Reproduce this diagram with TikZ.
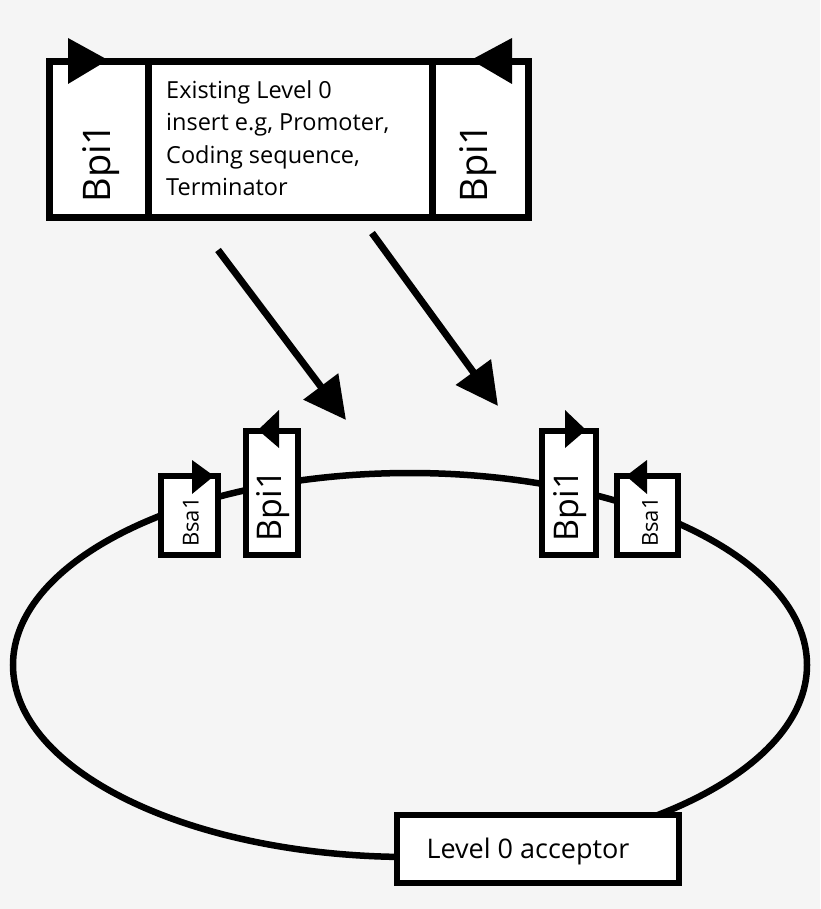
\documentclass[tikz,border=0pt]{standalone}
\usepackage{fontspec}
\setmainfont{Open Sans}
\usetikzlibrary{arrows.meta}
\begin{document}
\begin{tikzpicture}[x=1pt,y=-1pt,
  box/.style={draw=black,line width=7pt,fill=white},
  tri/.style={fill=black},
  lbl/.style={font=\fontsize{#1}{#1}\selectfont,rotate=90,inner sep=0}]
\fill[white!96!black] (0,0) rectangle (820,909);
\useasboundingbox (0,0) rectangle (820,909);
% ring
\draw[line width=6.5pt] (410,665) ellipse [x radius=397,y radius=192];
% top part
\draw[box] (49,62) rectangle (528,218);
\draw[line width=7pt] (148,62) -- (148,218) (432,62) -- (432,218);
\fill[tri] (68,38) -- (68,84) -- (108,60) -- cycle;
\fill[tri] (512,38) -- (512,84) -- (471,60) -- cycle;
\node[lbl=38] (bl) at (101,163) {Bpi1};
\node[lbl=38] (br) at (478,163) {Bpi1};
\node[anchor=north west,align=left,font=\fontsize{23.5}{32.5}\selectfont,inner sep=0] (ins) at (166,80)
 {Existing Level 0\\insert e.g, Promoter,\\Coding sequence,\\Terminator};
% arrows
\coordinate (a1s) at (218,250); \coordinate (a1e) at (346,420);
\coordinate (a2s) at (372,233); \coordinate (a2e) at (498,406);
\draw[line width=7pt,-{Triangle[length=42pt,width=42pt]}] (a1s) -- (a1e);
\draw[line width=7pt,-{Triangle[length=42pt,width=42pt]}] (a2s) -- (a2e);
% small boxes
\draw[box,line width=6pt] (161,476) rectangle (218,555);
\draw[box,line width=6pt] (246,431) rectangle (298,555);
\draw[box,line width=6pt] (542,431) rectangle (596,555);
\draw[box,line width=6pt] (617,476) rectangle (678,555);
\fill[tri] (192,460) -- (192,494) -- (214,476) -- cycle;
\fill[tri] (279,410) -- (279,448) -- (258,430) -- cycle;
\fill[tri] (565,410) -- (565,448) -- (586,430) -- cycle;
\fill[tri] (647,460) -- (647,494) -- (626,476) -- cycle;
\node[lbl=22] (s1) at (191,522) {Bsa1};
\node[lbl=34] (p1) at (273,506) {Bpi1};
\node[lbl=34] (p2) at (570,506) {Bpi1};
\node[lbl=22] (s2) at (650,522) {Bsa1};
% acceptor
\draw[box,line width=6pt] (397,815) rectangle (679,883);
\node[font=\fontsize{27}{27}\selectfont] (acc) at (528,851) {Level 0 acceptor};
\end{tikzpicture}
\end{document}
